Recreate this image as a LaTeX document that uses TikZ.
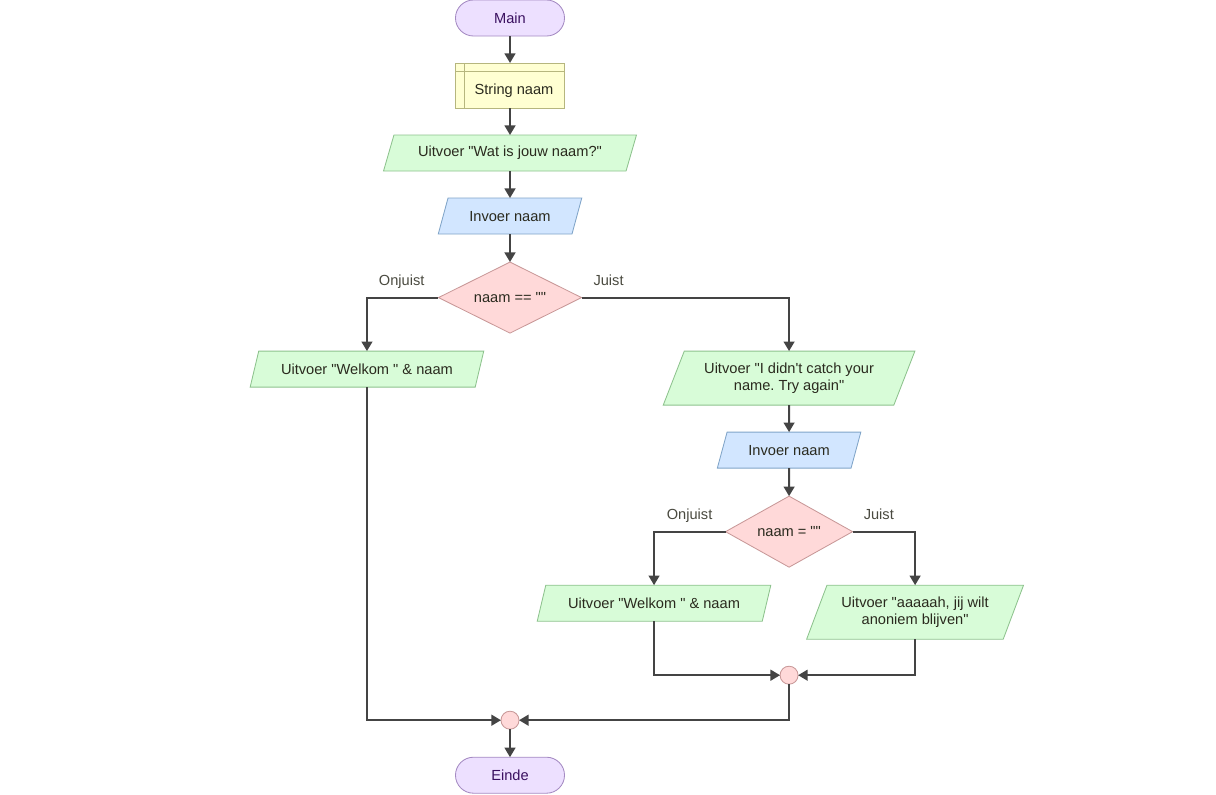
\documentclass[tikz,border=0pt]{standalone}
\usepackage{fontspec}
\setmainfont{Liberation Sans}[Ligatures=TeXOff]
\usepackage{tikz}
\usetikzlibrary{arrows.meta,positioning,shapes.geometric}
\frenchspacing
\definecolor{FlowTermFill}{HTML}{EDE0FF}
\definecolor{FlowTermLine}{HTML}{A48AC2}
\definecolor{FlowTermText}{HTML}{3A1060}
\definecolor{FlowDeclFill}{HTML}{FFFFD2}
\definecolor{FlowDeclLine}{HTML}{B6B67E}
\definecolor{FlowOutFill}{HTML}{D8FCD8}
\definecolor{FlowOutLine}{HTML}{8DC28D}
\definecolor{FlowInFill}{HTML}{D2E6FF}
\definecolor{FlowInLine}{HTML}{80A4C8}
\definecolor{FlowIfFill}{HTML}{FFD9D9}
\definecolor{FlowIfLine}{HTML}{C89898}
\definecolor{FlowText}{HTML}{2A2A1E}
\definecolor{FlowWire}{HTML}{444444}

\begin{document}
\begin{tikzpicture}[
  x=0.025cm, y=0.025cm,
  every node/.style={font=\fontsize{10.4}{12.5}\selectfont, text=FlowText, outer sep=0pt},
  term/.style={draw=FlowTermLine, fill=FlowTermFill, text=FlowTermText, rounded corners=0.45cm, minimum width=2.725cm, minimum height=0.9cm, line width=0.6pt},
  decl/.style={draw=FlowDeclLine, fill=FlowDeclFill, minimum width=2.725cm, minimum height=1.125cm, line width=0.6pt,
    text height=0.5cm, text depth=0.07cm, execute at begin node={\hspace*{0.2cm}},
    path picture={\draw[FlowDeclLine, line width=0.6pt]
      ([xshift=0.225cm]path picture bounding box.north west) -- ([xshift=0.225cm]path picture bounding box.south west)
      ([yshift=-0.2cm]path picture bounding box.north west) -- ([yshift=-0.2cm]path picture bounding box.north east);}},
  slanted/.style={trapezium, trapezium left angle=63, trapezium right angle=117, trapezium stretches=true, line width=0.6pt, align=center, inner sep=1pt},
  outbox/.style={slanted, draw=FlowOutLine, fill=FlowOutFill, minimum height=#1},
  outbox/.default=0.9cm,
  inbox/.style={slanted, draw=FlowInLine, fill=FlowInFill, minimum width=3.6cm, minimum height=0.9cm},
  decision/.style={diamond, aspect=2, draw=FlowIfLine, fill=FlowIfFill, minimum height=1.775cm, inner sep=0pt, line width=0.6pt},
  joint/.style={circle, draw=FlowIfLine, fill=FlowIfFill, minimum size=0.45cm, inner sep=0pt, line width=0.6pt},
  lbl/.style={inner sep=0pt, text=FlowText!85},
  arrow/.style={-{Triangle[length=0.24cm, width=0.27cm]}, line width=1.4pt, color=FlowWire}
]
\useasboundingbox (0,0) rectangle (1216,-795);

\node[term] (main) at (510,-18) {Main};
\node[decl, below=0.675cm of main] (naam) {String naam};
\node[outbox, minimum width=6.325cm, below=0.675cm of naam] (vraag) {Uitvoer "Wat is jouw naam?"};
\node[inbox, below=0.675cm of vraag] (lees) {Invoer naam};
\node[decision, minimum width=3.575cm, below=0.7cm of lees] (check) {naam == ""};

\node[outbox, minimum width=5.85cm, below=0.45cm of check, xshift=-3.575cm] (welkom) {Uitvoer "Welkom " \& naam};
\node[outbox=1.35cm, minimum width=6.3cm, below=0.45cm of check, xshift=6.975cm] (opnieuw) {Uitvoer "I didn't catch your\\name. Try again"};
\node[inbox, below=0.675cm of opnieuw] (lees2) {Invoer naam};
\node[decision, minimum width=3.175cm, below=0.7cm of lees2] (check2) {naam = ""};
\node[outbox, minimum width=5.85cm, below=0.45cm of check2, xshift=-3.375cm] (welkom2) {Uitvoer "Welkom " \& naam};
\node[outbox=1.35cm, minimum width=5.425cm, below=0.45cm of check2, xshift=3.15cm] (anoniem) {Uitvoer "aaaaah, jij wilt\\anoniem blijven"};

\node[joint, below=2.475cm of check2] (samen2) {};
\node[joint, below=9.45cm of check] (samen) {};
\node[term, below=0.7cm of samen] (einde) {Einde};

\node[lbl, anchor=base east] (nee) at ([shift={(-0.35cm,0.3cm)}]check.west) {Onjuist};
\node[lbl, anchor=base west] (ja) at ([shift={(0.3cm,0.3cm)}]check.east) {Juist};
\node[lbl, anchor=base east] (nee2) at ([shift={(-0.33cm,0.3cm)}]check2.west) {Onjuist};
\node[lbl, anchor=base west] (ja2) at ([shift={(0.28cm,0.3cm)}]check2.east) {Juist};

\draw[arrow] (main) -- (naam);
\draw[arrow] (naam) -- (vraag);
\draw[arrow] (vraag) -- (lees);
\draw[arrow] (lees) -- (check);
\draw[arrow] (check) -| (welkom);
\draw[arrow] (check) -| (opnieuw);
\draw[arrow] (opnieuw) -- (lees2);
\draw[arrow] (lees2) -- (check2);
\draw[arrow] (check2) -| (welkom2);
\draw[arrow] (check2) -| (anoniem);
\draw[arrow] (welkom2) |- (samen2);
\draw[arrow] (anoniem) |- (samen2);
\draw[arrow] (welkom) |- (samen);
\draw[arrow] (samen2) |- (samen);
\draw[arrow] (samen) -- (einde);
\end{tikzpicture}
\end{document}
